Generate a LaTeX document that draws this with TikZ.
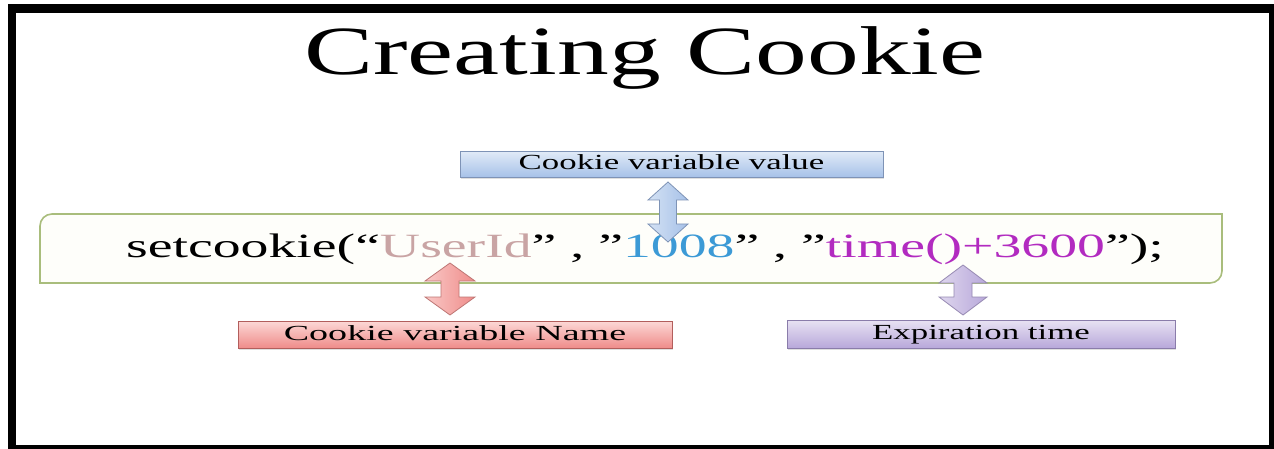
\documentclass[tikz,border=0pt]{standalone}
\usepackage{fontspec}
\setmainfont{Liberation Serif}
\usepackage{graphicx}
\usetikzlibrary{shadows}

\definecolor{frameblack}{HTML}{000000}
\definecolor{codegreen}{HTML}{A9BD7C}
\definecolor{codefill}{HTML}{FEFEFA}
\definecolor{namecol}{HTML}{C9A4A4}
\definecolor{valuecol}{HTML}{3C9AD6}
\definecolor{timecol}{HTML}{B22BC0}
\definecolor{bluetop}{HTML}{E0EAF7}
\definecolor{bluebot}{HTML}{A6C1E8}
\definecolor{blueline}{HTML}{7E93B6}
\definecolor{redtop}{HTML}{FCD8D6}
\definecolor{redbot}{HTML}{EF8C8A}
\definecolor{redline}{HTML}{B25E5C}
\definecolor{purptop}{HTML}{E8E2F3}
\definecolor{purpbot}{HTML}{B8A8DA}
\definecolor{purpline}{HTML}{8A7CAA}

% double-headed vertical block arrow:
% style, x centre, y of top tip, y of bottom tip, head half-width, shaft half-width
\newcommand{\dblarrow}[6]{%
  \path[#1] (#2,#3) -- (#2+#5,#3+18) -- (#2+#6,#3+18) -- (#2+#6,#4-18)
    -- (#2+#5,#4-18) -- (#2,#4) -- (#2-#5,#4-18) -- (#2-#6,#4-18)
    -- (#2-#6,#3+18) -- (#2-#5,#3+18) -- cycle;}
\newcommand{\stretchx}[2]{\scalebox{#1}[1]{#2}}

\begin{document}
\begin{tikzpicture}[x=1pt,y=-1pt,
  title/.style={inner sep=0pt, font=\fontsize{69}{80}\selectfont},
  code/.style={inner sep=0pt, font=\fontsize{34}{40}\selectfont},
  label/.style={draw, line width=0.9pt, inner sep=0pt, minimum height=26pt,
    text height=15pt, text depth=4pt,
    font=\fontsize{21.5}{24}\selectfont,
    drop shadow={shadow xshift=1.2pt, shadow yshift=-1.5pt, opacity=0.25}},
  bluebox/.style={label, draw=blueline, top color=bluetop, bottom color=bluebot},
  redbox/.style={label, draw=redline, top color=redtop, bottom color=redbot},
  purpbox/.style={label, draw=purpline, top color=purptop, bottom color=purpbot},
  bluearrow/.style={draw=blueline, line width=0.8pt, left color=bluetop!80!bluebot, right color=bluebot},
  redarrow/.style={draw=redline!85, line width=0.8pt, left color=redtop!80!redbot, right color=redbot},
  purparrow/.style={draw=purpline!90, line width=0.8pt, left color=purptop!80!purpbot, right color=purpbot},
]
\useasboundingbox (0,0) rectangle (1274,449);
\fill[white] (0,0) rectangle (1274,449);

% heavy black frame
\fill[frameblack] (8,4) rectangle (1274,13);
\fill[frameblack] (8,4) rectangle (16,449);
\fill[frameblack] (1269,4) rectangle (1274,449);
\fill[frameblack] (8,445) rectangle (1274,449);

% heading
\node[title, anchor=base] (heading) at (645,75) {\stretchx{1.5}{Creating Cookie}};

% code panel with two rounded diagonal corners
\draw[codegreen, line width=1.6pt, fill=codefill]
  (40,283) -- (40,226) arc[start angle=180, end angle=270, radius=12]
  -- (1222,214) -- (1222,271) arc[start angle=0, end angle=90, radius=12]
  -- cycle;
\coordinate (panel) at (631,248.5);

\node[code, anchor=base] (codeline) at (645,257)
  {\stretchx{1.64}{setcookie(“\textcolor{namecol}{UserId}” , ”\textcolor{valuecol}{1008}” , ”\textcolor{timecol}{time()+3600}”);}};

% explanation labels
\node[bluebox, minimum width=423pt] (valuebox) at (671.5,164.5) {\stretchx{1.62}{Cookie variable value}};
\node[redbox, minimum width=434pt, minimum height=27pt] (namebox) at (455,334.5) {\stretchx{1.77}{Cookie variable Name}};
\node[purpbox, minimum width=388pt, minimum height=28pt] (expbox) at (981,334) {\stretchx{1.62}{Expiration time}};

% double-headed arrows between labels and code
\dblarrow{bluearrow}{668}{182}{242}{20}{8.5}
\dblarrow{redarrow}{450}{263}{315}{25}{9}
\dblarrow{purparrow}{963}{265}{315}{24}{9}
\end{tikzpicture}
\end{document}
